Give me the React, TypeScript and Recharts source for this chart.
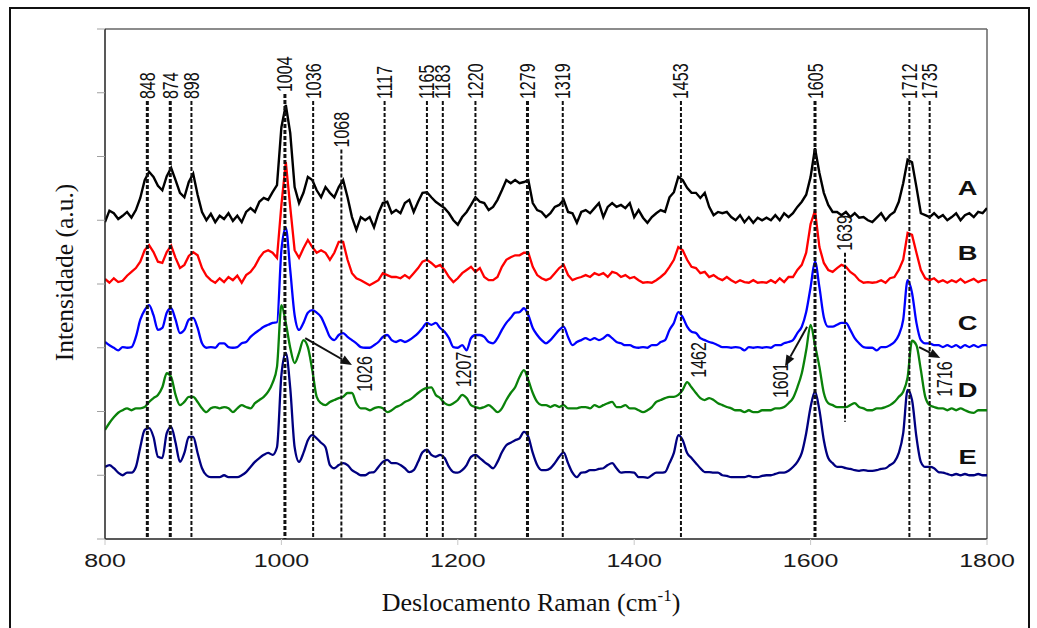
import React from "react";
import { LineChart, Line, XAxis, YAxis, ReferenceLine, ReferenceDot } from "recharts";

// Raman spectra, sampled every 5 cm-1 from 800 to 1800 (stacked, arbitrary units)
const START_WN = 800;
const STEP_WN = 5;

const spectrumA = [
  4.97, 5.15, 5.11, 5.02, 5.07, 5.13, 5.04, 5.16, 5.35, 5.63,
  5.76, 5.68, 5.54, 5.47, 5.69, 5.82, 5.63, 5.43, 5.36, 5.6,
  5.73, 5.4, 5.13, 5.0, 5.1, 4.97, 5.07, 5.02, 5.11, 4.99,
  5.07, 4.97, 5.13, 5.19, 5.13, 5.29, 5.35, 5.32, 5.44, 5.55,
  6.46, 6.81, 6.37, 5.52, 5.27, 5.43, 5.68, 5.63, 5.47, 5.36,
  5.52, 5.43, 5.36, 5.52, 5.63, 5.36, 5.05, 4.85, 5.05, 5.0,
  5.05, 4.89, 5.11, 5.27, 5.29, 5.11, 5.16, 5.11, 5.27, 5.32,
  5.13, 5.29, 5.43, 5.44, 5.36, 5.29, 5.24, 5.19, 5.11, 5.0,
  4.93, 5.05, 5.13, 5.24, 5.36, 5.29, 5.27, 5.16, 5.21, 5.32,
  5.47, 5.63, 5.58, 5.63, 5.58, 5.6, 5.63, 5.27, 5.16, 5.13,
  5.05, 5.11, 5.21, 5.24, 5.32, 5.13, 5.11, 4.96, 5.13, 5.16,
  5.11, 5.19, 5.27, 5.05, 5.21, 5.27, 5.21, 5.24, 5.19, 5.27,
  5.05, 5.16, 5.04, 4.96, 5.05, 5.11, 5.16, 5.13, 5.36, 5.44,
  5.68, 5.63, 5.51, 5.43, 5.43, 5.35, 5.43, 5.21, 5.08, 5.13,
  5.11, 5.13, 5.05, 5.0, 5.08, 4.97, 5.05, 4.96, 5.04, 5.0,
  5.04, 5.0, 5.08, 5.0, 5.11, 5.05, 5.11, 5.21, 5.29, 5.4,
  5.68, 6.13, 5.74, 5.43, 5.24, 5.13, 5.13, 5.08, 5.13, 5.05,
  5.11, 5.04, 5.05, 5.0, 4.97, 5.04, 5.11, 5.0, 5.08, 5.13,
  5.29, 5.58, 5.95, 5.91, 5.52, 5.11, 5.08, 5.05, 5.11, 5.04,
  5.08, 5.0, 5.05, 5.11, 5.0, 5.08, 5.11, 5.05, 5.13, 5.11,
  5.19,
];

const spectrumB = [
  4.08, 4.02, 4.09, 4.03, 4.05, 4.13, 4.19, 4.25, 4.35, 4.53,
  4.61, 4.5, 4.35, 4.33, 4.5, 4.6, 4.41, 4.25, 4.3, 4.44,
  4.5, 4.45, 4.25, 4.13, 4.06, 4.02, 4.09, 4.03, 4.11, 4.06,
  4.13, 4.02, 4.14, 4.19, 4.28, 4.41, 4.5, 4.53, 4.49, 4.41,
  5.24, 5.91, 5.21, 4.53, 4.41, 4.56, 4.69, 4.58, 4.49, 4.53,
  4.49, 4.38, 4.49, 4.66, 4.66, 4.38, 4.17, 4.09, 4.06, 4.02,
  3.98, 4.02, 4.06, 4.17, 4.14, 4.11, 4.11, 4.09, 4.14, 4.09,
  4.17, 4.25, 4.35, 4.38, 4.33, 4.27, 4.3, 4.22, 4.11, 4.03,
  4.09, 4.17, 4.22, 4.27, 4.19, 4.25, 4.11, 4.06, 4.06, 4.11,
  4.27, 4.38, 4.42, 4.45, 4.45, 4.49, 4.49, 4.27, 4.14, 4.09,
  4.06, 4.09, 4.17, 4.25, 4.3, 4.14, 4.06, 4.09, 4.11, 4.14,
  4.11, 4.17, 4.14, 4.17, 4.11, 4.19, 4.17, 4.11, 4.14, 4.09,
  4.11, 4.06, 4.02, 4.03, 4.02, 4.06, 4.11, 4.17, 4.27, 4.38,
  4.58, 4.53, 4.38, 4.27, 4.25, 4.17, 4.19, 4.11, 4.14, 4.09,
  4.06, 4.11, 4.06, 4.02, 4.06, 4.03, 4.02, 4.06, 4.02, 4.03,
  4.02, 4.06, 4.02, 4.09, 4.03, 4.11, 4.11, 4.22, 4.3, 4.49,
  4.94, 5.15, 4.58, 4.33, 4.22, 4.19, 4.25, 4.3, 4.27, 4.19,
  4.14, 4.06, 4.02, 4.03, 4.02, 4.03, 4.06, 4.02, 4.09, 4.11,
  4.22, 4.38, 4.8, 4.77, 4.49, 4.22, 4.09, 4.06, 4.09, 4.03,
  4.06, 4.02, 4.06, 4.03, 4.08, 4.02, 4.05, 4.08, 4.03, 4.06,
  4.06,
];

const spectrumC = [
  3.09, 3.04, 3.0, 2.96, 3.01, 3.0, 3.01, 3.17, 3.44, 3.59,
  3.67, 3.51, 3.28, 3.31, 3.55, 3.62, 3.44, 3.23, 3.28, 3.44,
  3.47, 3.31, 3.07, 3.0, 3.01, 3.0, 3.07, 3.07, 3.01, 3.0,
  3.01, 3.07, 3.09, 3.17, 3.23, 3.28, 3.33, 3.36, 3.39, 3.4,
  4.53, 4.88, 4.22, 3.51, 3.28, 3.39, 3.55, 3.59, 3.55, 3.48,
  3.33, 3.17, 3.12, 3.2, 3.23, 3.17, 3.12, 3.07, 3.01, 3.0,
  3.0, 3.04, 3.09, 3.17, 3.2, 3.12, 3.09, 3.12, 3.09, 3.12,
  3.17, 3.23, 3.31, 3.39, 3.36, 3.39, 3.31, 3.25, 3.15, 3.01,
  3.0, 3.04, 2.96, 3.15, 3.2, 3.2, 3.17, 3.09, 3.07, 3.15,
  3.28, 3.39, 3.47, 3.55, 3.56, 3.62, 3.51, 3.31, 3.2, 3.12,
  3.07, 3.12, 3.2, 3.28, 3.33, 3.17, 3.04, 3.09, 3.12, 3.15,
  3.12, 3.15, 3.12, 3.15, 3.2, 3.15, 3.09, 3.07, 3.04, 3.04,
  3.01, 3.0, 3.01, 3.0, 3.04, 3.04, 3.09, 3.12, 3.28, 3.39,
  3.56, 3.48, 3.33, 3.25, 3.23, 3.15, 3.12, 3.09, 3.07, 3.04,
  3.01, 3.01, 3.0, 3.01, 3.0, 2.96, 3.01, 3.0, 3.01, 3.0,
  3.01, 3.0, 3.04, 3.04, 3.07, 3.09, 3.12, 3.23, 3.33, 3.56,
  3.95, 4.35, 3.95, 3.48, 3.33, 3.33, 3.36, 3.39, 3.39, 3.28,
  3.15, 3.07, 3.01, 3.0, 3.0, 2.96, 3.01, 3.01, 3.04, 3.09,
  3.2, 3.44, 4.06, 3.86, 3.39, 3.12, 3.07, 3.07, 3.04, 3.04,
  3.01, 3.04, 3.01, 3.04, 3.0, 3.04, 3.01, 3.04, 3.01, 3.04,
  3.04,
];

const spectrumD = [
  1.71, 1.82, 1.91, 1.98, 2.02, 2.05, 2.02, 2.05, 2.05, 2.07,
  2.15, 2.21, 2.26, 2.38, 2.6, 2.54, 2.26, 2.1, 2.15, 2.23,
  2.23, 2.15, 2.05, 1.99, 2.05, 2.07, 2.05, 2.07, 2.05, 1.99,
  2.05, 2.1, 2.07, 2.05, 2.13, 2.18, 2.23, 2.31, 2.45, 2.7,
  3.67, 3.39, 3.0, 2.76, 2.92, 3.12, 3.01, 2.65, 2.23, 2.13,
  2.1, 2.15, 2.18, 2.21, 2.23, 2.29, 2.29, 2.13, 2.05, 2.05,
  2.02, 2.05, 2.07, 2.05, 1.99, 2.02, 2.07, 2.1, 2.15, 2.18,
  2.23, 2.29, 2.34, 2.37, 2.38, 2.26, 2.21, 2.13, 2.1, 2.13,
  2.18, 2.26, 2.21, 2.1, 2.07, 2.05, 2.07, 2.1, 2.05, 1.99,
  2.05, 2.18, 2.29, 2.38, 2.54, 2.65, 2.49, 2.29, 2.15, 2.1,
  2.1, 2.07, 2.1, 2.07, 2.1, 2.05, 2.05, 2.05, 2.07, 2.07,
  2.05, 2.1, 2.07, 2.1, 2.13, 2.15, 2.07, 2.07, 2.1, 2.05,
  2.05, 2.02, 1.99, 2.02, 2.07, 2.15, 2.18, 2.21, 2.23, 2.23,
  2.26, 2.34, 2.46, 2.38, 2.29, 2.21, 2.18, 2.21, 2.18, 2.13,
  2.1, 2.07, 2.05, 2.02, 2.02, 1.99, 2.02, 1.99, 1.99, 2.02,
  2.02, 2.02, 2.05, 2.05, 2.07, 2.13, 2.21, 2.38, 2.6, 2.96,
  3.36, 3.04, 2.7, 2.29, 2.13, 2.1, 2.07, 2.07, 2.07, 2.1,
  2.13, 2.07, 2.05, 2.02, 2.02, 2.05, 2.05, 2.07, 2.1, 2.15,
  2.23, 2.31, 2.54, 3.11, 3.04, 2.65, 2.23, 2.1, 2.07, 2.05,
  2.05, 2.02, 2.05, 2.02, 2.05, 2.02, 1.99, 1.98, 2.02, 2.02,
  2.02,
];

const spectrumE = [
  1.13, 1.16, 1.11, 1.04, 1.0, 1.04, 1.04, 1.13, 1.44, 1.71,
  1.74, 1.6, 1.29, 1.27, 1.66, 1.76, 1.51, 1.21, 1.35, 1.6,
  1.6, 1.35, 1.11, 1.0, 0.97, 0.97, 0.97, 1.0, 0.97, 0.97,
  0.97, 1.0, 1.05, 1.13, 1.21, 1.27, 1.32, 1.35, 1.32, 1.44,
  2.57, 2.92, 2.37, 1.44, 1.21, 1.35, 1.55, 1.63, 1.58, 1.51,
  1.44, 1.16, 1.11, 1.16, 1.19, 1.16, 1.08, 1.04, 1.0, 1.0,
  1.04, 1.05, 1.13, 1.21, 1.24, 1.19, 1.19, 1.16, 1.11, 1.05,
  1.08, 1.21, 1.36, 1.4, 1.32, 1.29, 1.32, 1.27, 1.13, 1.05,
  1.04, 1.08, 1.16, 1.29, 1.32, 1.27, 1.21, 1.16, 1.11, 1.21,
  1.36, 1.47, 1.51, 1.55, 1.58, 1.68, 1.6, 1.35, 1.16, 1.08,
  1.08, 1.11, 1.19, 1.29, 1.36, 1.19, 1.04, 0.97, 1.04, 1.05,
  1.08, 1.08, 1.1, 1.11, 1.16, 1.19, 1.11, 1.04, 1.05, 1.05,
  1.04, 0.97, 0.97, 0.96, 1.0, 1.04, 1.04, 1.05, 1.19, 1.35,
  1.63, 1.55, 1.35, 1.27, 1.19, 1.11, 1.05, 1.05, 1.04, 1.04,
  1.0, 0.99, 0.97, 0.97, 0.97, 0.97, 0.99, 0.97, 0.97, 0.99,
  1.0, 1.0, 1.02, 1.04, 1.04, 1.07, 1.13, 1.21, 1.35, 1.66,
  2.07, 2.31, 2.02, 1.55, 1.27, 1.19, 1.13, 1.13, 1.11, 1.1,
  1.08, 1.07, 1.08, 1.07, 1.07, 1.08, 1.1, 1.11, 1.16, 1.21,
  1.35, 1.66, 2.34, 2.18, 1.6, 1.21, 1.13, 1.13, 1.11, 1.05,
  1.04, 1.02, 1.0, 1.02, 1.0, 1.02, 1.0, 1.0, 1.02, 1.0,
  1.0,
];

const wavenumbers = spectrumA.map((_, i) => START_WN + i * STEP_WN);

const seriesNames = ["A", "B", "C", "D", "E"];
const seriesColors = ["#000000", "#ff0000", "#0000ff", "#0a820a", "#000080"];
const seriesLabelY = [5.52, 4.5, 3.4, 2.34, 1.3];

const xTicks = [800, 1000, 1200, 1400, 1600, 1800];
const yTicks = [0, 1, 2, 3, 4, 5, 6, 7, 8];

// assigned bands marked with dashed lines
const markedPeaks = [848, 874, 898, 1004, 1036, 1068, 1117, 1165, 1183, 1220, 1279, 1319, 1453, 1605, 1639, 1712, 1735];
const markTop = [6.87, 6.87, 6.87, 6.98, 6.87, 6.11, 6.87, 6.87, 6.87, 6.87, 6.87, 6.87, 6.87, 6.87, 4.49, 6.87, 6.87];
const markBottom = [0, 0, 0, 0, 0, 0, 0, 0, 0, 0, 0, 0, 0, 0, 1.84, 0, 0];
const heavyMarks = [848, 874, 1004, 1279, 1605];

// shifted bands written inside the plot
const shiftLabels = ["1026", "1207", "1462", "1601", "1716"];
const shiftLabelX = [1094, 1207, 1473, 1566, 1752];
const shiftLabelY = [2.31, 2.38, 2.53, 2.21, 2.23];
const arrowFrom = [[1027, 3.15], [1596, 3.33], [1723, 3.01]];
const arrowTo = [[1080, 2.73], [1571, 2.71], [1747, 2.84]];

const spectra = [spectrumA, spectrumB, spectrumC, spectrumD, spectrumE];
const chartData = wavenumbers.map((wn, i) => {
  const row: Record<string, number> = { wn };
  seriesNames.forEach((name, s) => {
    row[name] = spectra[s][i];
  });
  return row;
});

const SANS = "'Liberation Sans', Arial, sans-serif";
const SERIF = "'Liberation Serif', 'Times New Roman', serif";
const STRETCH = 1.33;

const XTick = ({ x, y, payload }: any) => (
  <text
    transform={`translate(${x},${y + 20}) scale(1.35,1)`}
    textAnchor="middle"
    fontFamily={SANS}
    fontSize={18.5}
    fill="#1a1a1a"
  >
    {payload.value}
  </text>
);

// y axis has tick marks but no numbers
const NoTick = () => <g />;

const MarkLine = ({ x1, y1, x2, y2, text, heavy }: any) => {
  const top = Math.min(y1, y2);
  return (
    <g>
      <line
        x1={x1}
        y1={y1}
        x2={x2}
        y2={y2}
        stroke="#111"
        strokeWidth={heavy ? 3 : 2}
        strokeDasharray="4 2"
      />
      <text
        transform={`translate(${x1 + 7.5},${top - 2}) scale(${STRETCH},1) rotate(-90)`}
        fontFamily={SANS}
        fontSize={16}
        fill="#111"
      >
        {text}
      </text>
    </g>
  );
};

const Arrow = ({ x1, y1, x2, y2 }: any) => {
  const dx = x2 - x1;
  const dy = y2 - y1;
  const len = Math.sqrt(dx * dx + dy * dy);
  const ux = dx / len;
  const uy = dy / len;
  const head = 11;
  const half = 4.5;
  const bx = x2 - ux * head;
  const by = y2 - uy * head;
  return (
    <g>
      <line x1={x1} y1={y1} x2={bx} y2={by} stroke="#111" strokeWidth={2} />
      <polygon
        points={`${x2},${y2} ${bx - uy * half},${by + ux * half} ${bx + uy * half},${by - ux * half}`}
        fill="#111"
      />
    </g>
  );
};

const XTitle = ({ viewBox }: any) => (
  <text
    x={viewBox.x + viewBox.width / 2 - 15}
    y={viewBox.y + 72}
    textAnchor="middle"
    fontFamily={SERIF}
    fontSize={26}
    fill="#111"
  >
    Deslocamento Raman (cm
    <tspan dy={-10} fontSize={17}>
      -1
    </tspan>
    <tspan dy={10}>)</tspan>
  </text>
);

const YTitle = ({ viewBox }: any) => (
  <text
    transform={`translate(${viewBox.x - 20.5},${viewBox.y + viewBox.height / 2 - 11.5}) rotate(-90)`}
    textAnchor="middle"
    dy="0.35em"
    fontFamily={SERIF}
    fontSize={25.5}
    fill="#111"
  >
    Intensidade (a.u.)
  </text>
);

export default function App() {
  return (
    <div style={{ position: "relative", width: 1037, height: 628, overflow: "hidden", background: "#fff" }}>
      <style>{`html,body{margin:0;padding:0;background:#fff}`}</style>
      <div
        style={{
          position: "absolute",
          left: 9,
          top: 7,
          width: 1021,
          height: 660,
          border: "2px solid #111",
          boxSizing: "border-box",
        }}
      />
      <div style={{ position: "absolute", left: 0, top: 0 }}>
        <LineChart
          width={1037}
          height={628}
          data={chartData}
          margin={{ top: 29, right: 50, bottom: 49, left: 85 }}
        >
          <XAxis
            dataKey="wn"
            type="number"
            domain={[800, 1800]}
            ticks={xTicks}
            allowDataOverflow
            height={40}
            tickSize={6}
            tickMargin={2}
            tick={<XTick />}
            tickLine={{ stroke: "#c8c8c8" }}
            axisLine={{ stroke: "#222", strokeWidth: 1.5 }}
            label={<XTitle />}
          />
          <YAxis
            type="number"
            domain={[0, 8]}
            ticks={yTicks}
            allowDataOverflow
            width={20}
            tickSize={8}
            tick={<NoTick />}
            tickLine={{ stroke: "#a0a0a0", strokeWidth: 1 }}
            axisLine={{ stroke: "#222", strokeWidth: 1.5 }}
            label={<YTitle />}
          />
          <ReferenceLine y={8} stroke="#666" strokeWidth={1.5} />
          <ReferenceLine x={1800} stroke="#666" strokeWidth={1.5} />

          {seriesNames.map((name, s) => (
            <Line
              key={name}
              dataKey={name}
              type={s < 2 ? "linear" : "monotone"}
              stroke={seriesColors[s]}
              strokeWidth={s === 0 ? 2.4 : 2.3}
              dot={false}
              activeDot={false}
              isAnimationActive={false}
            />
          ))}

          {markedPeaks.map((wn, i) => (
            <ReferenceLine
              key={`mark-${wn}`}
              segment={[
                { x: wn, y: markTop[i] },
                { x: wn, y: markBottom[i] },
              ]}
              shape={(p: any) => (
                <MarkLine {...p} text={String(wn)} heavy={heavyMarks.includes(wn)} />
              )}
            />
          ))}

          {arrowFrom.map((from, i) => (
            <ReferenceLine
              key={`arrow-${i}`}
              segment={[
                { x: from[0], y: from[1] },
                { x: arrowTo[i][0], y: arrowTo[i][1] },
              ]}
              shape={(p: any) => <Arrow {...p} />}
            />
          ))}

          {shiftLabels.map((text, i) => (
            <ReferenceDot
              key={`shift-${text}`}
              x={shiftLabelX[i]}
              y={shiftLabelY[i]}
              r={1}
              shape={(p: any) => (
                <text
                  transform={`translate(${p.cx + 7.5},${p.cy}) scale(${STRETCH},1) rotate(-90)`}
                  fontFamily={SANS}
                  fontSize={16}
                  fill="#111"
                >
                  {text}
                </text>
              )}
            />
          ))}

          {seriesNames.map((name, s) => (
            <ReferenceDot
              key={`name-${name}`}
              x={1778}
              y={seriesLabelY[s]}
              r={1}
              shape={(p: any) => (
                <text
                  transform={`translate(${p.cx},${p.cy + 7.5}) scale(1.3,1)`}
                  textAnchor="middle"
                  fontFamily={SANS}
                  fontWeight="bold"
                  fontSize={21}
                  fill="#111"
                >
                  {name}
                </text>
              )}
            />
          ))}
        </LineChart>
      </div>
    </div>
  );
}
